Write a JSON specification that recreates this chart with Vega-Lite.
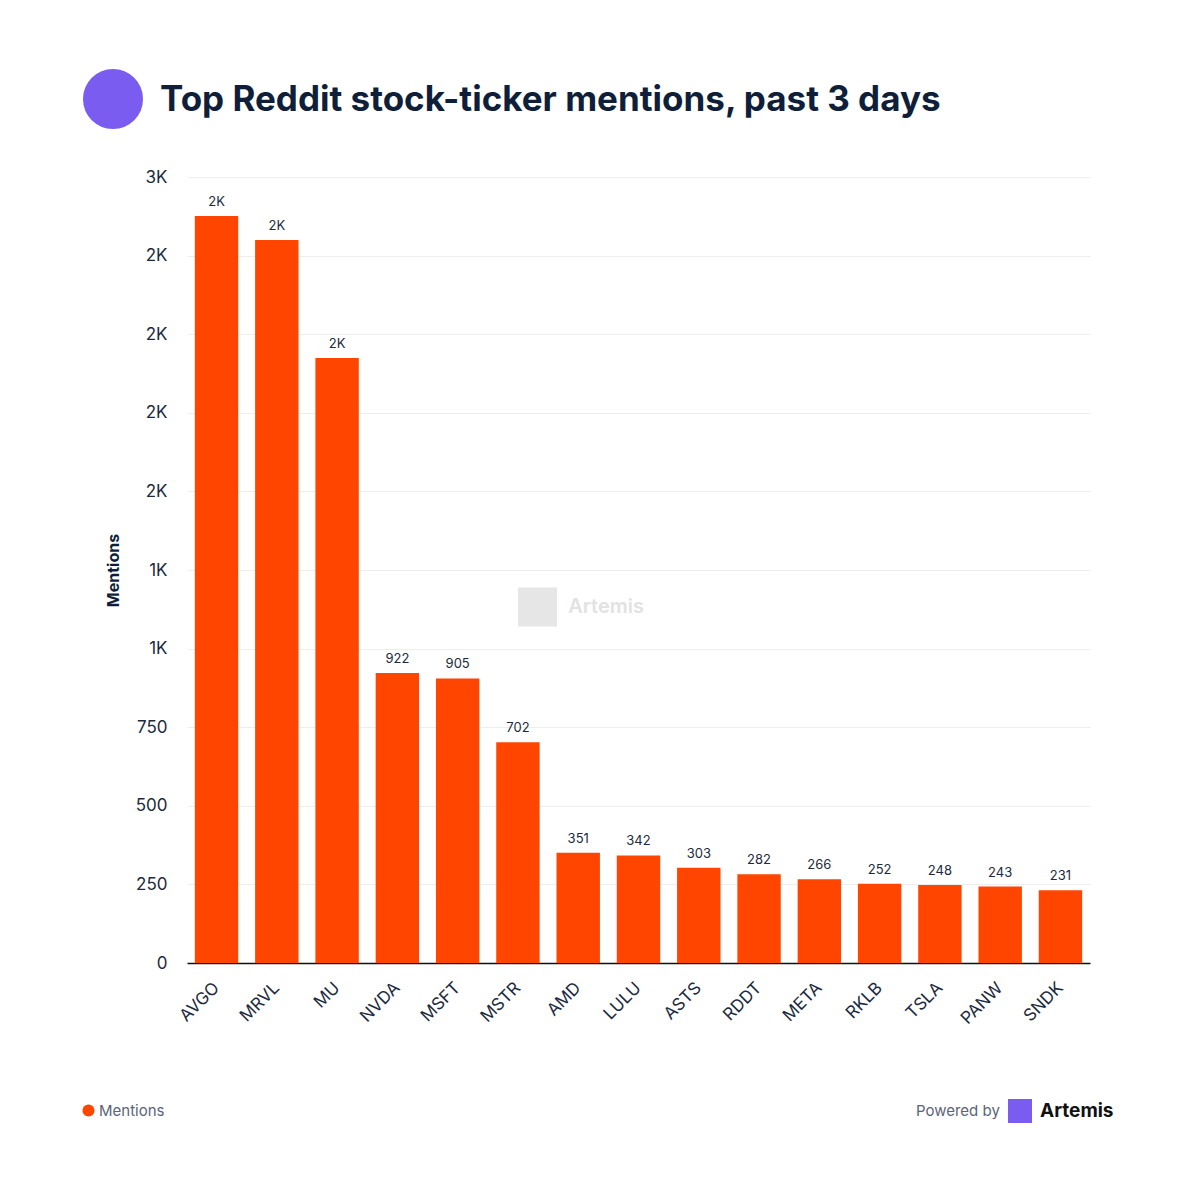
{
  "$schema": "https://vega.github.io/schema/vega-lite/v6.json",
  "autosize": "none",
  "width": 903,
  "height": 786,
  "padding": {"left": 187, "top": 177, "right": 110, "bottom": 237},
  "background": "white",
  "config": {
    "font": "Inter",
    "view": {"stroke": null}
  },
  "title": {
    "text": "Top Reddit stock-ticker mentions, past 3 days",
    "anchor": "start",
    "frame": "group",
    "dx": -27,
    "offset": -49,
    "fontSize": 35,
    "fontWeight": "bold",
    "color": "#0f1f3a"
  },
  "data": {
    "values": [
      {"ticker": "AVGO", "mentions": 2376, "series": "Mentions"},
      {"ticker": "MRVL", "mentions": 2300, "series": "Mentions"},
      {"ticker": "MU", "mentions": 1924, "series": "Mentions"},
      {"ticker": "NVDA", "mentions": 922, "series": "Mentions"},
      {"ticker": "MSFT", "mentions": 905, "series": "Mentions"},
      {"ticker": "MSTR", "mentions": 702, "series": "Mentions"},
      {"ticker": "AMD", "mentions": 351, "series": "Mentions"},
      {"ticker": "LULU", "mentions": 342, "series": "Mentions"},
      {"ticker": "ASTS", "mentions": 303, "series": "Mentions"},
      {"ticker": "RDDT", "mentions": 282, "series": "Mentions"},
      {"ticker": "META", "mentions": 266, "series": "Mentions"},
      {"ticker": "RKLB", "mentions": 252, "series": "Mentions"},
      {"ticker": "TSLA", "mentions": 248, "series": "Mentions"},
      {"ticker": "PANW", "mentions": 243, "series": "Mentions"},
      {"ticker": "SNDK", "mentions": 231, "series": "Mentions"}
    ]
  },
  "encoding": {
    "x": {
      "field": "ticker",
      "type": "nominal",
      "sort": null,
      "title": null,
      "scale": {"paddingInner": 0.28, "paddingOuter": 0.13},
      "axis": {
        "labelAngle": -45,
        "labelAlign": "right",
        "labelBaseline": "middle",
        "labelFontSize": 17,
        "labelColor": "#1c2a40",
        "labelPadding": 22,
        "ticks": false,
        "domainColor": "#111111",
        "domainWidth": 1.5,
        "grid": false
      }
    },
    "y": {
      "field": "mentions",
      "type": "quantitative",
      "title": "Mentions",
      "scale": {"domain": [0, 2500], "nice": false},
      "axis": {
        "values": [0, 250, 500, 750, 1000, 1250, 1500, 1750, 2000, 2250, 2500],
        "labelExpr": "datum.value >= 1000 ? format(datum.value / 1000, '.0f') + 'K' : datum.label",
        "labelFontSize": 17,
        "labelColor": "#1c2a40",
        "labelPadding": 20,
        "ticks": false,
        "domain": false,
        "gridColor": "#eeeeee",
        "titleFontSize": 16,
        "titleFontWeight": "bold",
        "titleColor": "#0f1f3a",
        "titlePadding": 14
      }
    }
  },
  "layer": [
    {
      "mark": {"type": "bar"},
      "encoding": {
        "color": {
          "field": "series",
          "type": "nominal",
          "scale": {"range": ["#ff4500"]},
          "legend": {
            "title": null,
            "orient": "none",
            "legendX": -106,
            "legendY": 926,
            "symbolType": "circle",
            "symbolSize": 144,
            "labelFontSize": 15,
            "labelColor": "#5b6479",
            "labelOffset": 3
          }
        }
      }
    },
    {
      "transform": [
        {"calculate": "datum.mentions >= 1000 ? format(datum.mentions / 1000, '.0f') + 'K' : format(datum.mentions, 'd')", "as": "label"}
      ],
      "mark": {"type": "text", "baseline": "bottom", "dy": -7, "fontSize": 13, "color": "#1c2a40"},
      "encoding": {
        "text": {"field": "label", "type": "nominal"}
      }
    },
    {
      "data": {"values": [{"ticker": "AMD", "mentions": 1132, "brand": "Artemis", "logo": "logo"}]},
      "layer": [
        {
          "mark": {"type": "point", "shape": "square", "filled": true, "size": 1521, "color": "#e6e6e6", "opacity": 1},
          "encoding": {"xOffset": {"value": -19}}
        },
        {
          "mark": {"type": "text", "align": "left", "baseline": "middle", "dx": -10, "fontSize": 20, "fontWeight": 600, "color": "#e2e2e2"},
          "encoding": {"text": {"field": "brand", "type": "nominal"}}
        },
        {
          "mark": {"type": "text", "text": ""},
          "encoding": {
            "fill": {
              "field": "brand",
              "type": "nominal",
              "scale": {"range": ["#7b5cf0"]},
              "legend": {
                "title": "Powered by",
                "titleOrient": "left",
                "titleFontSize": 15,
                "titleFontWeight": "normal",
                "titleColor": "#5b6479",
                "titlePadding": 8,
                "orient": "none",
                "legendX": 729,
                "legendY": 922,
                "symbolType": "square",
                "symbolSize": 576,
                "symbolStrokeWidth": 0,
                "symbolOpacity": 1,
                "labelFontSize": 19,
                "labelFontWeight": "bold",
                "labelColor": "#111111",
                "labelOffset": 8
              }
            }
          }
        },
        {
          "mark": {"type": "text", "text": "", "fill": "#7b5cf0"},
          "encoding": {
            "stroke": {
              "field": "logo",
              "type": "nominal",
              "scale": {"range": ["#7b5cf0"]},
              "legend": {
                "title": null,
                "orient": "none",
                "legendX": -104,
                "legendY": -108,
                "symbolType": "circle",
                "symbolSize": 900,
                "symbolStrokeWidth": 30,
                "symbolOpacity": 1,
                "labelExpr": "''"
              }
            }
          }
        }
      ]
    }
  ]
}
